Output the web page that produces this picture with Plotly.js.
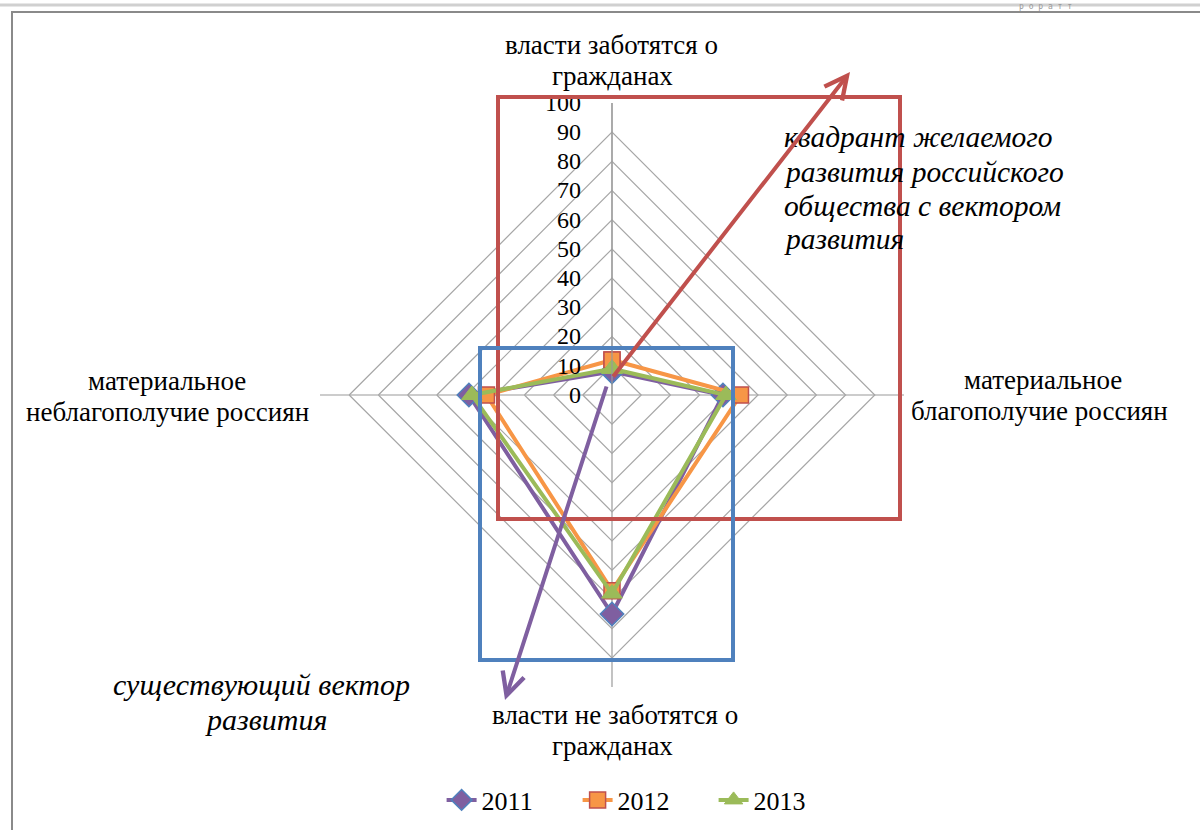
<!DOCTYPE html>
<html>
<head>
<meta charset="utf-8">
<script src="https://cdn.plot.ly/plotly-3.0.1.min.js"></script>
<style>html,body{margin:0;padding:0;background:#fff;}#chart{width:1200px;height:830px;}</style>
</head>
<body>
<div id="chart"></div>
<script>
var categories = [
  "власти заботятся о гражданах",
  "материальное благополучие россиян",
  "власти не заботятся о гражданах",
  "материальное неблагополучие россиян"
];
// category labels split into the lines shown on the chart
var categoryLines = [
  ["власти заботятся о", "гражданах"],
  ["материальное", "благополучие россиян"],
  ["власти не заботятся о", "гражданах"],
  ["материальное", "неблагополучие россиян"]
];
var years = ["2011", "2012", "2013"];
var values2011 = [8, 38, 75, 49];
var values2012 = [12, 44, 67, 43];
var values2013 = [9, 39, 68, 48];
var radialTicks = [0, 10, 20, 30, 40, 50, 60, 70, 80, 90, 100];
var noteDesired = ["квадрант желаемого", "развития российского", "общества с вектором", "развития"];
var noteExisting = ["существующий вектор", "развития"];

function closed(arr) { return arr.concat([arr[0]]); }

var FONT = "Liberation Serif";
var W = 1200, H = 830;
function px(x) { return x / W; }
function py(y) { return 1 - y / H; }

var styles = [
  {color: "#7F5FA0", symbol: "diamond", size: 18, lineColor: "#4F81BD", lw: 1.5},
  {color: "#F79646", symbol: "square", size: 16, lineColor: "#C0504D", lw: 1.5},
  {color: "#9BBB59", symbol: "triangle-up", size: 18, lineColor: "#9BBB59", lw: 1}
];
var series = [values2011, values2012, values2013];

var traces = series.map(function (vals, i) {
  return {
    type: "scatterpolar",
    mode: "lines+markers",
    name: years[i],
    r: closed(vals),
    theta: closed(categories),
    line: {color: styles[i].color, width: 4},
    marker: {symbol: styles[i].symbol, size: styles[i].size, color: styles[i].color,
             line: {color: styles[i].lineColor, width: styles[i].lw}},
    cliponaxis: false
  };
});

function textLine(t, x, y, anchor, size, italic) {
  return {xref: "paper", yref: "paper", x: px(x), y: py(y), xanchor: anchor, yanchor: "middle",
          showarrow: false, text: italic ? "<i>" + t + "</i>" : t,
          font: {family: FONT, size: size, color: "#000"}};
}

// layout positions (pixels) of the category label lines
var catLinePos = [
  [[611, 45], [612, 76]],
  [[1043, 380], [1039, 411]],
  [[615, 715], [612, 746]],
  [[167, 381], [167, 412]]
];
var anns = [];
categoryLines.forEach(function (lines, i) {
  lines.forEach(function (t, j) {
    anns.push(textLine(t, catLinePos[i][j][0], catLinePos[i][j][1], "center", 27, false));
  });
});
var desiredY = [137, 172, 206, 239];
noteDesired.forEach(function (t, j) { anns.push(textLine(t, 782, desiredY[j], "left", 29.5, true)); });
var existingPos = [[261, 684], [266, 719]];
noteExisting.forEach(function (t, j) { anns.push(textLine(t, existingPos[j][0], existingPos[j][1], "center", 30, true)); });

anns.push(
  {xref: "paper", yref: "paper", x: px(850), y: py(72), ax: 612 - 850, ay: 378 - 72,
   text: "", showarrow: true, arrowhead: 5, arrowsize: 1.1, arrowwidth: 4, arrowcolor: "#C0504D"},
  {xref: "paper", yref: "paper", x: px(505), y: py(700), ax: 607 - 505, ay: 385 - 700,
   text: "", showarrow: true, arrowhead: 5, arrowsize: 1.1, arrowwidth: 4, arrowcolor: "#7F5FA0"},
  {xref: "paper", yref: "paper", x: px(1045), y: py(6), xanchor: "center", yanchor: "middle",
   showarrow: false, text: "р о р а т т", font: {family: "DejaVu Sans Mono", size: 8, color: "#999"}}
);

var layout = {
  width: W, height: H,
  margin: {l: 0, r: 0, t: 0, b: 0},
  paper_bgcolor: "#fff",
  font: {family: FONT, size: 22, color: "#000"},
  showlegend: true,
  legend: {orientation: "h", x: 0.368, xanchor: "left", y: py(800), yanchor: "middle",
           font: {family: FONT, size: 26, color: "#000"}, entrywidth: 91, entrywidthmode: "pixels"},
  polar: {
    domain: {x: [px(320), px(904)], y: [py(687), py(103)]},
    gridshape: "linear",
    bgcolor: "rgba(0,0,0,0)",
    radialaxis: {
      range: [0, 100], tickvals: radialTicks, ticktext: radialTicks.map(String),
      angle: 90, side: "counterclockwise", tickangle: 90,
      showline: true, linecolor: "#9a9a9a", linewidth: 1.2,
      gridcolor: "#a6a6a6", gridwidth: 1.2,
      ticks: "outside", ticklen: 22, tickcolor: "rgba(0,0,0,0)",
      tickfont: {family: FONT, size: 24, color: "#000"}
    },
    angularaxis: {
      type: "category", categoryarray: categories,
      direction: "clockwise", rotation: 90,
      showline: false, gridcolor: "#9a9a9a", gridwidth: 1.2,
      ticks: "", showticklabels: false
    }
  },
  shapes: [
    {type: "line", xref: "paper", yref: "paper", x0: 0, x1: 1, y0: py(5), y1: py(5),
     line: {color: "#d0d0d0", width: 3}, layer: "below"},
    {type: "rect", xref: "paper", yref: "paper", x0: px(12), x1: px(1210), y0: py(840), y1: py(12),
     line: {color: "#8a8a8a", width: 2}, layer: "below"},
    {type: "rect", xref: "paper", yref: "paper", x0: px(498), x1: px(900), y0: py(519), y1: py(97),
     line: {color: "#C0504D", width: 4}},
    {type: "rect", xref: "paper", yref: "paper", x0: px(480), x1: px(733), y0: py(660), y1: py(348),
     line: {color: "#4F81BD", width: 4}}
  ],
  annotations: anns
};

Plotly.newPlot("chart", traces, layout, {displayModeBar: false, staticPlot: true});
</script>
</body>
</html>
